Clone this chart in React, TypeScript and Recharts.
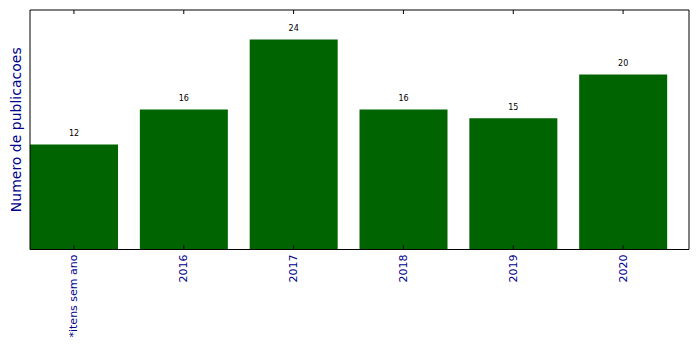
import { BarChart, Bar, XAxis, YAxis, LabelList } from 'recharts';

const categories = ['*itens sem ano', '2016', '2017', '2018', '2019', '2020'];
const publicacoes = [12, 16, 24, 16, 15, 20];
const tickPositions = [0, 1, 2, 3, 4, 5];

const data = categories.map((name, i) => ({ idx: i, name, value: publicacoes[i] }));

const labelColor = '#00008b';

const BottomTick = (props: any) => {
    const { x, payload } = props;
    const axisY = 249.5;
    return (
        <g>
            <line x1={x} x2={x} y1={axisY} y2={axisY - 4} stroke="#000" strokeWidth={1} />
            <text
                x={x}
                y={axisY + 5}
                transform={`rotate(-90, ${x}, ${axisY + 5})`}
                textAnchor="end"
                dominantBaseline="central"
                fontSize={11}
                fontFamily="DejaVu Sans"
                fill={labelColor}
            >
                {categories[payload.value]}
            </text>
        </g>
    );
};

const TopTick = (props: any) => {
    const { x } = props;
    const axisY = 10;
    return <line x1={x} x2={x} y1={axisY} y2={axisY + 4} stroke="#000" strokeWidth={1} />;
};

const YLabel = (props: any) => {
    const { viewBox } = props;
    const cx = 16;
    const cy = viewBox.y + viewBox.height / 2;
    return (
        <text
            x={cx}
            y={cy}
            transform={`rotate(-90, ${cx}, ${cy})`}
            textAnchor="middle"
            dominantBaseline="central"
            fontSize={14}
            fontFamily="DejaVu Sans"
            fill={labelColor}
        >
            Numero de publicacoes
        </text>
    );
};

const App = () => {
    return (
        <div style={{ position: 'absolute', left: 0, top: 0, background: '#fff' }}>
            <BarChart width={699} height={349} data={data} margin={{ top: 0, right: 0, bottom: 0, left: 0 }}>
                <XAxis
                    xAxisId="bottom"
                    dataKey="idx"
                    type="number"
                    domain={[-0.4, 5.6]}
                    ticks={tickPositions}
                    allowDataOverflow
                    orientation="bottom"
                    height={99.5}
                    tickLine={false}
                    axisLine={{ stroke: '#000' }}
                    tick={<BottomTick />}
                    interval={0}
                />
                <XAxis
                    xAxisId="top"
                    dataKey="idx"
                    type="number"
                    domain={[-0.4, 5.6]}
                    ticks={tickPositions}
                    allowDataOverflow
                    orientation="top"
                    height={10}
                    tickLine={false}
                    axisLine={{ stroke: '#000' }}
                    tick={<TopTick />}
                    interval={0}
                />
                <YAxis
                    yAxisId="left"
                    domain={[0, 27.36]}
                    allowDataOverflow
                    width={30}
                    tick={false}
                    tickLine={false}
                    axisLine={{ stroke: '#000' }}
                    label={<YLabel />}
                />
                <YAxis
                    yAxisId="right"
                    orientation="right"
                    domain={[0, 27.36]}
                    width={10}
                    tick={false}
                    tickLine={false}
                    axisLine={{ stroke: '#000' }}
                />
                <Bar
                    dataKey="value"
                    xAxisId="bottom"
                    yAxisId="left"
                    fill="#006400"
                    barSize={88}
                    isAnimationActive={false}
                >
                    <LabelList
                        dataKey="value"
                        position="top"
                        offset={8}
                        fontSize={8}
                        fontFamily="DejaVu Sans"
                        fill="#000"
                    />
                </Bar>
            </BarChart>
        </div>
    );
};

export default App;
